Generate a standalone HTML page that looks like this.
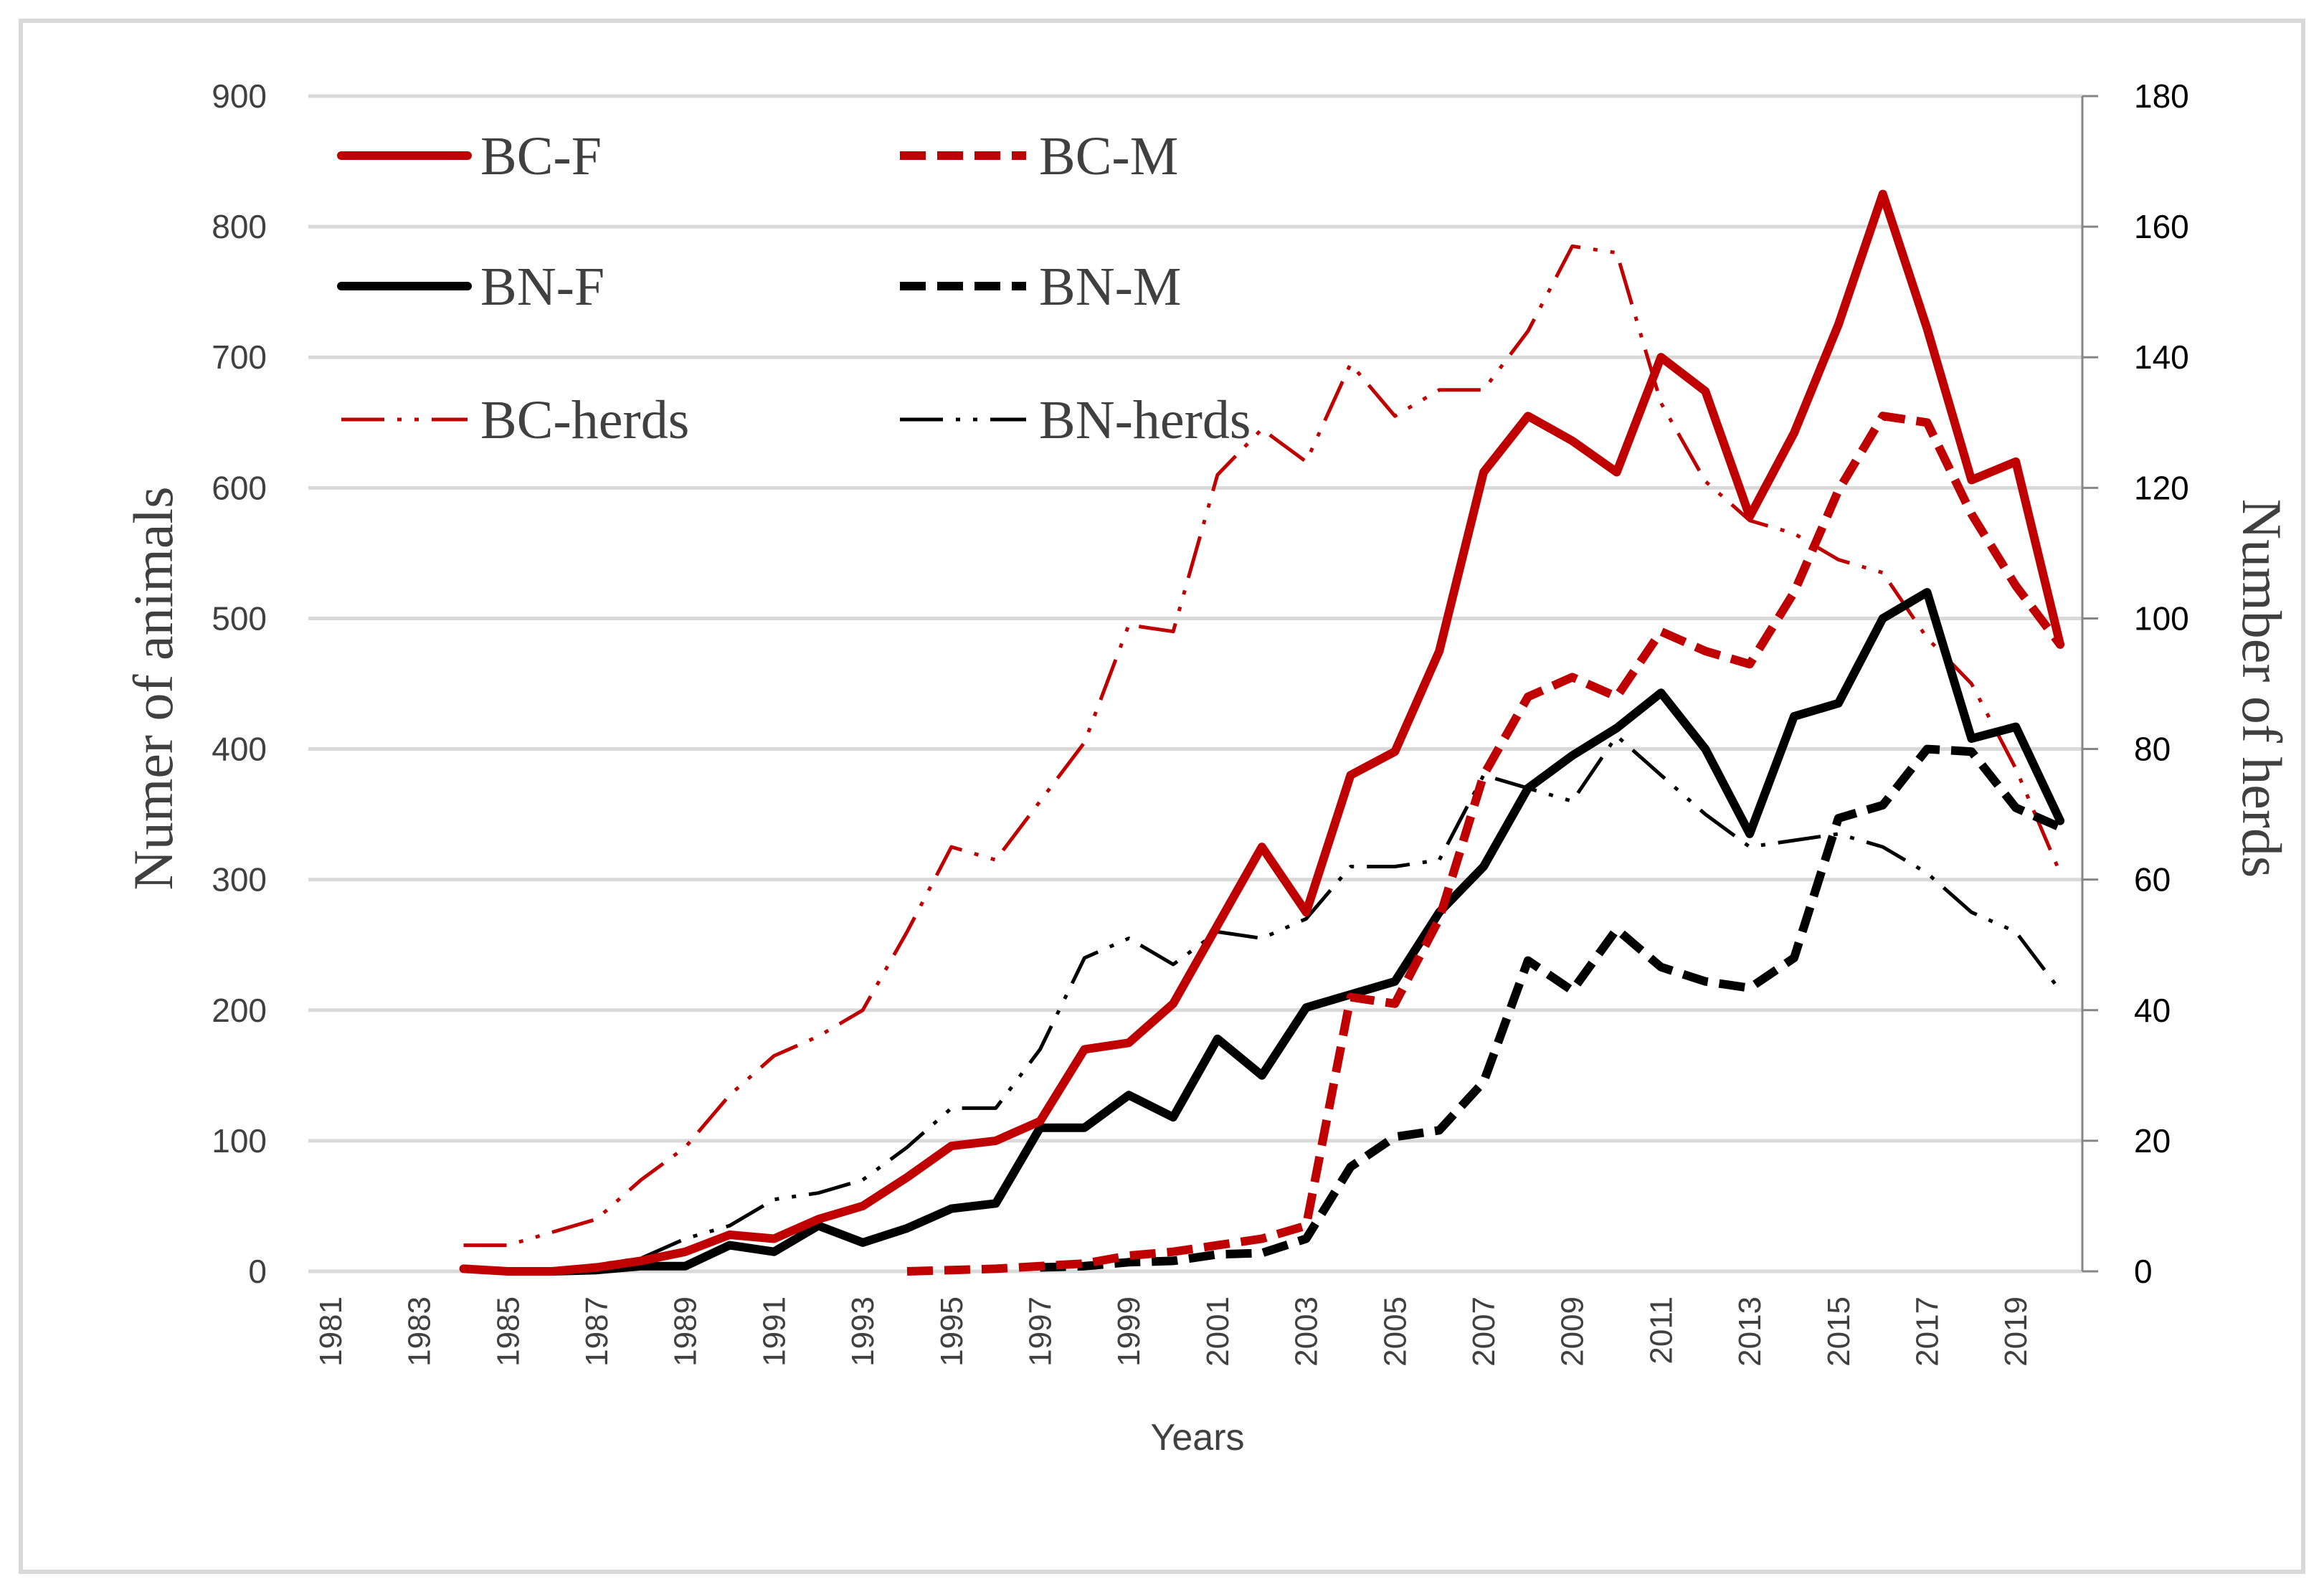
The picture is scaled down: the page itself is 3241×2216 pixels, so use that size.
<!DOCTYPE html>
<html><head><meta charset="utf-8"><style>
html,body{margin:0;padding:0;background:#fff;}
svg{display:block;}
</style></head><body>
<svg id="chart" width="3241" height="2216" viewBox="0 0 3241 2216" xmlns="http://www.w3.org/2000/svg">
<rect x="29" y="29" width="3183" height="2163" fill="#fff" stroke="#d9d9d9" stroke-width="6"/>
<g id="grid"></g>
<g id="axes"></g>
<g id="series"></g>
<g id="legend"></g>
<text x="1670" y="2022" font-family="Liberation Sans, sans-serif" font-size="52" fill="#404040" text-anchor="middle">Years</text>
<text transform="translate(240,960) rotate(-90)" font-family="Liberation Serif, serif" font-size="78" fill="#404040" text-anchor="middle">Numer of animals</text>
<text transform="translate(3128,960) rotate(90)" font-family="Liberation Serif, serif" font-size="78" fill="#404040" text-anchor="middle">Number of herds</text>
</svg>
<script>
const years = [];
for (let y = 1981; y <= 2020; y++) years.push(y);
const leftTicks = [0,100,200,300,400,500,600,700,800,900];
const rightTicks = [0,20,40,60,80,100,120,140,160,180];
const bcfYears = [1984,1985,1986,1987,1988,1989,1990,1991,1992,1993,1994,1995,1996,1997,1998,1999,2000,2001,2002,2003,2004,2005,2006,2007,2008,2009,2010,2011,2012,2013,2014,2015,2016,2017,2018,2019,2020];
const bcfValues = [2,0,0,3,8,15,28,25,40,50,72,96,100,115,170,175,205,265,325,275,380,398,475,612,655,636,612,700,674,578,642,725,825,722,606,620,480];
const bcmYears = [1994,1995,1996,1997,1998,1999,2000,2001,2002,2003,2004,2005,2006,2007,2008,2009,2010,2011,2012,2013,2014,2015,2016,2017,2018,2019,2020];
const bcmValues = [0,1,2,4,6,12,15,20,25,35,210,205,270,380,440,455,440,490,475,465,520,598,655,650,580,525,480];
const bnfYears = [1986,1987,1988,1989,1990,1991,1992,1993,1994,1995,1996,1997,1998,1999,2000,2001,2002,2003,2004,2005,2006,2007,2008,2009,2010,2011,2012,2013,2014,2015,2016,2017,2018,2019,2020];
const bnfValues = [0,1,4,4,20,15,35,22,33,48,52,110,110,135,118,178,150,202,212,222,275,310,370,395,416,443,400,335,425,435,500,520,408,417,345];
const bnmYears = [1997,1998,1999,2000,2001,2002,2003,2004,2005,2006,2007,2008,2009,2010,2011,2012,2013,2014,2015,2016,2017,2018,2019,2020];
const bnmValues = [3,4,7,8,13,14,25,80,103,108,145,238,215,262,233,222,217,240,347,357,400,398,355,340];
const bchYears = [1984,1985,1986,1987,1988,1989,1990,1991,1992,1993,1994,1995,1996,1997,1998,1999,2000,2001,2002,2003,2004,2005,2006,2007,2008,2009,2010,2011,2012,2013,2014,2015,2016,2017,2018,2019,2020];
const bchValues = [4,4,6,8,14,19,27,33,36,40,52,65,63,72,81,99,98,122,129,124,139,131,135,135,144,157,156,133,121,115,113,109,107,97,90,77,61];
const bnhYears = [1986,1987,1988,1989,1990,1991,1992,1993,1994,1995,1996,1997,1998,1999,2000,2001,2002,2003,2004,2005,2006,2007,2008,2009,2010,2011,2012,2013,2014,2015,2016,2017,2018,2019,2020];
const bnhValues = [0,1,2,5,7,11,12,14,19,25,25,34,48,51,47,52,51,54,62,62,63,76,74,72,82,76,70,65,66,67,65,61,55,52,43];

const NS = 'http://www.w3.org/2000/svg';
const L = 430, R = 2904, Y0 = 1773, YT = 134;
const step = (R - L) / years.length;
const xS = yr => L + (yr - years[0] + 0.5) * step;
const yL = v => Y0 - v / 900 * (Y0 - YT);
const yR = v => Y0 - v / 180 * (Y0 - YT);
function mk(tag, attrs, parent) {
  const e = document.createElementNS(NS, tag);
  for (const k in attrs) e.setAttribute(k, attrs[k]);
  parent.appendChild(e);
  return e;
}
const grid = document.getElementById('grid');
const axes = document.getElementById('axes');
leftTicks.forEach(v => {
  const g = mk('line', {x1: L, x2: R, y1: yL(v), y2: yL(v), stroke: '#d9d9d9', 'stroke-width': 5}, grid);
  
  
  const t = mk('text', {x: 372, y: yL(v) + 16, 'font-family': 'Liberation Sans, sans-serif', 'font-size': 46, fill: '#404040', 'text-anchor': 'end'}, axes);
  t.textContent = v;
  
  
});
const ra = mk('line', {x1: R, x2: R, y1: yR(0), y2: yR(180), stroke: '#868686', 'stroke-width': 3}, axes);


rightTicks.forEach(v => {
  const tk = mk('line', {x1: R, x2: R + 22, y1: yR(v), y2: yR(v), stroke: '#868686', 'stroke-width': 3}, axes);
  
  
  const t = mk('text', {x: 2976, y: yR(v) + 16, 'font-family': 'Liberation Sans, sans-serif', 'font-size': 46, fill: '#000', 'text-anchor': 'start'}, axes);
  t.textContent = v;
  
  
});
years.forEach((yr, i) => {
  if (i % 2) return;
  const x = xS(yr) + 15;
  const t = mk('text', {transform: `translate(${x},1808) rotate(-90)`, 'font-family': 'Liberation Sans, sans-serif', 'font-size': 44, fill: '#404040', 'text-anchor': 'end'}, axes);
  t.textContent = yr;
  
  
});
const series = document.getElementById('series');
function drawLine(name, ys, vs, scale, color, width, dash) {
  const pts = ys.map((yr, i) => xS(yr).toFixed(1) + ',' + scale(vs[i]).toFixed(1)).join(' ');
  const p = mk('polyline', {points: pts, fill: 'none', stroke: color, 'stroke-width': width, 'stroke-linejoin': 'round', 'stroke-linecap': dash ? 'butt' : 'round'}, series);
  if (dash) p.setAttribute('stroke-dasharray', dash);
  
  
}
const RED = '#c00000', BLK = '#000';
const HERD_DASH = '60 18 6 18 6 18';
drawLine('bc-herds-line', bchYears, bchValues, yR, RED, 5, HERD_DASH);
drawLine('bn-herds-line', bnhYears, bnhValues, yR, BLK, 5, HERD_DASH);
drawLine('bn-m-line', bnmYears, bnmValues, yL, BLK, 12, '36 16');
drawLine('bn-f-line', bnfYears, bnfValues, yL, BLK, 12, null);
drawLine('bc-m-line', bcmYears, bcmValues, yL, RED, 12, '36 16');
drawLine('bc-f-line', bcfYears, bcfValues, yL, RED, 12, null);

const legend = document.getElementById('legend');
const entries = [
  ['BC-F', RED, 12, null, 476, 217],
  ['BC-M', RED, 12, '36 16', 1255, 217],
  ['BN-F', BLK, 12, null, 476, 399],
  ['BN-M', BLK, 12, '36 16', 1255, 399],
  ['BC-herds', RED, 5, HERD_DASH, 476, 585],
  ['BN-herds', BLK, 5, HERD_DASH, 1255, 585]
];
entries.forEach(e => {
  const g = mk('g', {}, legend);
  
  
  const ln = mk('line', {x1: e[4], x2: e[4] + 176, y1: e[5], y2: e[5], stroke: e[1], 'stroke-width': e[2], 'stroke-linecap': e[3] ? 'butt' : 'round'}, g);
  if (e[3]) ln.setAttribute('stroke-dasharray', e[3]);
  
  
  const t = mk('text', {x: e[4] + 194, y: e[5] + 26, 'font-family': 'Liberation Serif, serif', 'font-size': 76, fill: '#404040'}, g);
  t.textContent = e[0];
  
  
});
</script>
</body></html>
